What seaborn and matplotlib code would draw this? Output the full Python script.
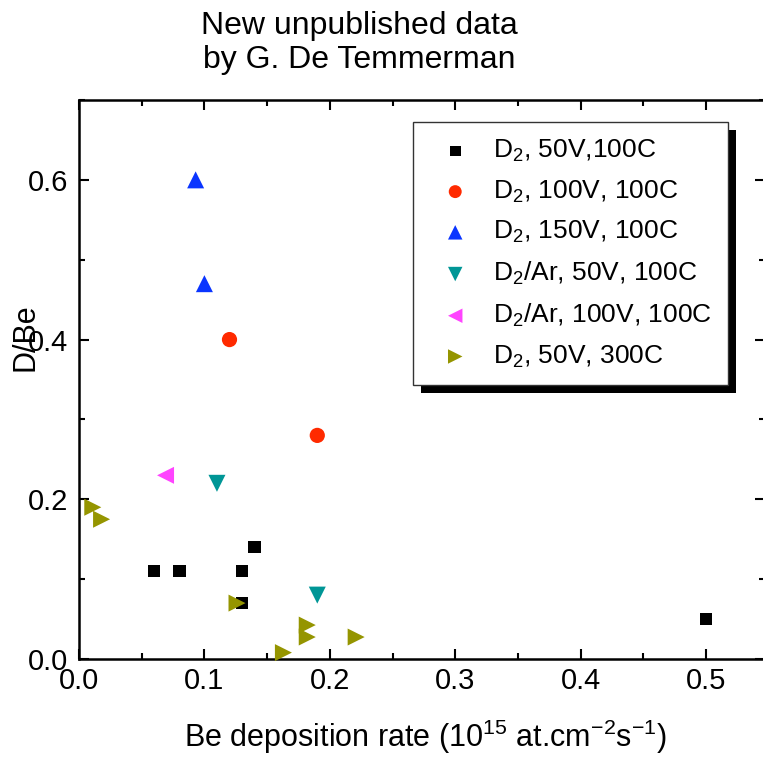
import numpy as np
import pandas as pd
import matplotlib
matplotlib.use("Agg")
import matplotlib.pyplot as plt
from matplotlib.patches import Rectangle
from matplotlib.ticker import MultipleLocator
import seaborn as sns

# ---- data ----
labels = [r"D$_2$, 50V,100C", r"D$_2$, 100V, 100C", r"D$_2$, 150V, 100C",
          r"D$_2$/Ar, 50V, 100C", r"D$_2$/Ar, 100V, 100C", r"D$_2$, 50V, 300C"]
sq_x = [0.06, 0.08, 0.13, 0.14, 0.13, 0.50]
sq_y = [0.11, 0.11, 0.11, 0.14, 0.07, 0.05]
ci_x = [0.12, 0.19]
ci_y = [0.40, 0.28]
up_x = [0.093, 0.10]
up_y = [0.60, 0.47]
dn_x = [0.11, 0.19]
dn_y = [0.22, 0.08]
lf_x = [0.069]
lf_y = [0.23]
rt_x = [0.011, 0.018, 0.126, 0.163, 0.182, 0.182, 0.221]
rt_y = [0.19, 0.175, 0.07, 0.008, 0.0425, 0.0275, 0.0275]
x_ticks = [0.0, 0.1, 0.2, 0.3, 0.4, 0.5]
y_ticks = [0.0, 0.2, 0.4, 0.6]

series = [
    (sq_x, sq_y, "s", "#000000", 80),
    (ci_x, ci_y, "o", "#FF2A00", 120),
    (up_x, up_y, "^", "#0A35FF", 150),
    (dn_x, dn_y, "v", "#009696", 150),
    (lf_x, lf_y, "<", "#FF44FF", 150),
    (rt_x, rt_y, ">", "#959500", 150),
]

sns.set_style("ticks")
plt.rcParams["font.family"] = ["Liberation Sans", "DejaVu Sans"]
plt.rcParams["mathtext.fontset"] = "custom"
plt.rcParams["mathtext.rm"] = "Liberation Sans"
plt.rcParams["mathtext.it"] = "Liberation Sans:italic"
plt.rcParams["text.color"] = "black"
plt.rcParams["xtick.color"] = "black"
plt.rcParams["ytick.color"] = "black"
plt.rcParams["xtick.labelcolor"] = "black"
plt.rcParams["ytick.labelcolor"] = "black"

W, H = 763, 758
fig = plt.figure(figsize=(W / 100, H / 100), dpi=100)
ax = fig.add_axes([79 / W, 1 - 659 / H, 686 / W, 559 / H])

for (xs, ys, m, c, s), lab in zip(series, labels):
    df = pd.DataFrame({"x": xs, "y": ys})
    sns.scatterplot(data=df, x="x", y="y", marker=m, color=c, s=s,
                    edgecolor="none", linewidth=0, label=lab, ax=ax, clip_on=False, zorder=3)

ax.set_xlim(0, 0.547)
ax.set_ylim(0, 0.7)
ax.set_xticks(x_ticks)
ax.set_yticks(y_ticks)
ax.set_xticklabels([f"{v:.1f}" for v in x_ticks])
ax.set_yticklabels([f"{v:.1f}" for v in y_ticks])
ax.xaxis.set_minor_locator(MultipleLocator(0.05))
ax.yaxis.set_minor_locator(MultipleLocator(0.1))
ax.tick_params(which="both", direction="in", top=True, right=True, width=1.5,
               color="black", labelcolor="black")
ax.tick_params(which="major", length=7, labelsize=21, pad=6)
ax.tick_params(which="minor", length=4)
ax.tick_params(axis="y", which="major", pad=8)
for sp in ax.spines.values():
    sp.set_linewidth(1.8)
    sp.set_color("black")
ax.set_xlabel("")
ax.set_ylabel("")

fig.text(425 / W, 1 - 737 / H, r"Be deposition rate (10$^{15}$ at.cm$^{-2}$s$^{-1}$)",
         ha="center", va="center", fontsize=22)
fig.text(25 / W, 1 - 337 / H, "D/Be", rotation=90, ha="center", va="center", fontsize=22)
fig.text(359 / W, 1 - 43 / H, "New unpublished data\nby G. De Temmerman",
         ha="center", va="center", fontsize=23, linespacing=1.15)

leg = ax.legend(loc="upper left", bbox_to_anchor=((413 - 79) / 686, (659 - 122) / 559),
                borderaxespad=0, fontsize=19, frameon=True, fancybox=False,
                handletextpad=0.43, handlelength=2.0, labelspacing=0.55,
                borderpad=0.6, markerscale=0.85)
leg.get_frame().set_edgecolor("#333333")
leg.get_frame().set_linewidth(1.0)
leg.get_frame().set_alpha(1)
leg.set_zorder(6)
for t in leg.get_texts():
    t.set_color("black")

fig.canvas.draw()
bb = leg.get_window_extent()
inv = fig.transFigure.inverted()
(x0, y0) = inv.transform((bb.x0 + 8, bb.y0 - 8))
(x1, y1) = inv.transform((bb.x1 + 8, bb.y1 - 8))
shadow = Rectangle((x0, y0), x1 - x0, y1 - y0, transform=fig.transFigure,
                   facecolor="black", edgecolor="none", zorder=5.5, clip_on=False)
ax.add_artist(shadow)

fig.savefig("out.png", dpi=100)
